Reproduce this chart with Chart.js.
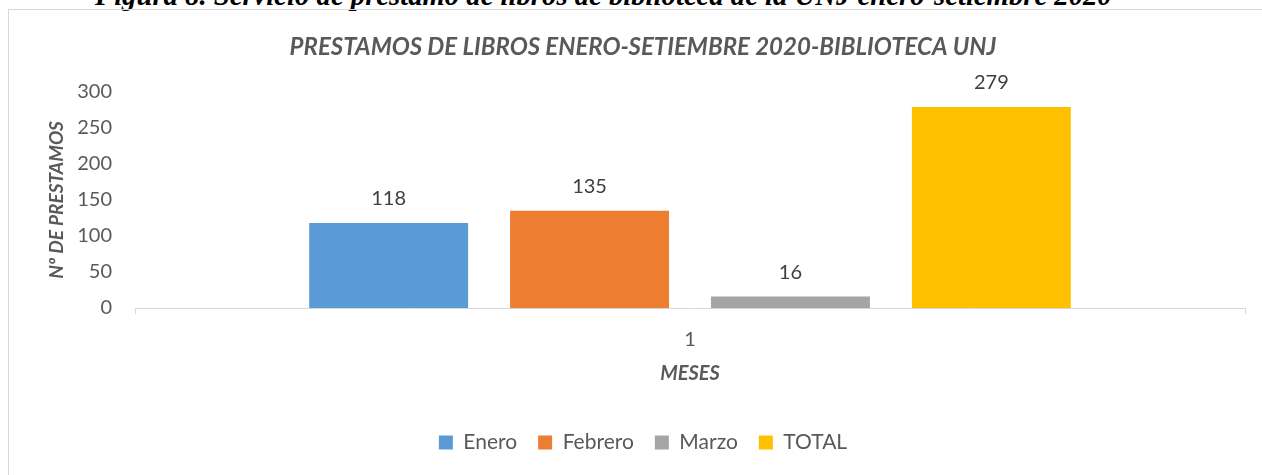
<!DOCTYPE html>
<html>
<head>
<meta charset="utf-8">
<script src="https://cdn.jsdelivr.net/npm/chart.js@4.4.0/dist/chart.umd.min.js"></script>
<style>
  html, body { margin: 0; padding: 0; background: #fff; overflow: hidden; }
  body { width: 1262px; height: 475px; position: relative; }
  #caption {
    position: absolute; left: 95px; top: -21px; line-height: 1;
    font: bold italic 28.7px "Liberation Serif", serif; color: #000; white-space: nowrap;
  }
  #frame {
    position: absolute; left: 8px; top: 9px; width: 1300px; height: 520px;
    border: 1px solid #d9d9d9; box-sizing: border-box;
  }
  #chart { position: absolute; left: 0; top: 0; }
</style>
</head>
<body>
<div id="caption">Figura 8. Servicio de préstamo de libros de biblioteca de la UNJ enero-setiembre 2020</div>
<div id="frame"></div>
<canvas id="chart" width="1262" height="475"></canvas>
<script>
// values
const categories = ["1"];
const seriesNames = ["Enero", "Febrero", "Marzo", "TOTAL"];
const seriesValues = [118, 135, 16, 279];
const seriesColors = ["#5b9bd5", "#ed7d31", "#a5a5a5", "#ffc000"];
const yTicks = [0, 50, 100, 150, 200, 250, 300];

Chart.defaults.font.family = "Lato";
Chart.defaults.color = "#595959";

// value labels above each bar
const barLabels = {
  id: "barLabels",
  afterDatasetsDraw(chart) {
    const ctx = chart.ctx;
    ctx.save();
    ctx.font = "20px Lato";
    ctx.fillStyle = "#404040";
    ctx.textAlign = "center";
    ctx.textBaseline = "middle";
    chart.data.datasets.forEach((ds, i) => {
      chart.getDatasetMeta(i).data.forEach((bar, j) => {
        ctx.fillText(String(ds.data[j]), bar.x, bar.y - 24);
      });
    });
    ctx.restore();
  }
};

new Chart(document.getElementById("chart"), {
  type: "bar",
  data: {
    labels: categories,
    datasets: seriesNames.map((name, i) => ({
      label: name,
      data: [seriesValues[i]],
      backgroundColor: seriesColors[i],
      borderWidth: 0,
      categoryPercentage: 0.724,
      barPercentage: 0.791
    }))
  },
  options: {
    responsive: false,
    animation: false,
    layout: { padding: { left: 41, right: 17, top: 0, bottom: 12 } },
    plugins: {
      title: {
        display: true,
        text: "PRESTAMOS DE LIBROS ENERO-SETIEMBRE 2020-BIBLIOTECA UNJ",
        font: { size: 24, weight: "bold", style: "italic" },
        color: "#595959",
        padding: { top: 33, bottom: 30 }
      },
      legend: {
        position: "bottom",
        labels: { boxWidth: 14, boxHeight: 14, padding: 21, font: { size: 21 }, color: "#595959" }
      },
      tooltip: { enabled: false }
    },
    scales: {
      x: {
        grid: { display: true, drawOnChartArea: false, drawTicks: true, tickLength: 6, color: "#d9d9d9" },
        border: { display: true, color: "#d9d9d9", width: 1 },
        ticks: { padding: 14, font: { size: 20 }, color: "#595959" },
        title: {
          display: true, text: "MESES", color: "#595959",
          font: { size: 20, weight: "bold", style: "italic" },
          padding: { top: 4, bottom: 25 }
        },
        afterFit(scale) { scale.height = 103; }
      },
      y: {
        min: 0, max: 300,
        grid: { display: false, drawTicks: false },
        border: { display: false },
        afterBuildTicks(scale) { scale.ticks = yTicks.map(v => ({ value: v })); },
        ticks: { padding: 23, font: { size: 20 }, color: "#595959" },
        title: {
          display: true, text: "Nº DE PRESTAMOS", color: "#595959",
          font: { size: 19, weight: "bold", style: "italic" },
          padding: { top: 4, bottom: 4 }
        },
        afterFit(scale) { scale.width = 94; }
      }
    }
  },
  plugins: [barLabels]
});
</script>
</body>
</html>
